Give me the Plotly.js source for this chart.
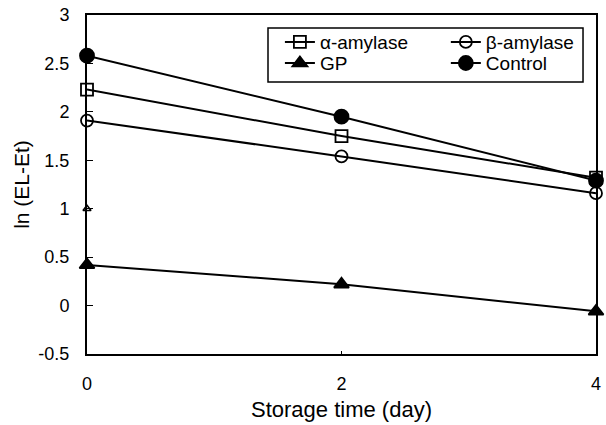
<!DOCTYPE html>
<html>
<head>
<meta charset="utf-8">
<script src="https://cdn.plot.ly/plotly-3.0.1.min.js"></script>
<style>html,body{margin:0;padding:0;background:#fff;}#chart{width:606px;height:425px;}</style>
</head>
<body>
<div id="chart"></div>
<script>
const days = [0, 2, 4];
const alphaAmylase = [2.23, 1.75, 1.32];
const betaAmylase = [1.91, 1.54, 1.16];
const gp = [0.42, 0.22, -0.06];
const control = [2.58, 1.95, 1.29];
const strayX = [0];
const strayY = [1.0];
const xTicks = [0, 2, 4];
const yTicks = [-0.5, 0, 0.5, 1, 1.5, 2, 2.5, 3];
const yTickText = ['-0.5', '0', '0.5', '1', '1.5', '2', '2.5', '3'];

const fontFam = 'Liberation Sans, Arial, sans-serif';
const line = {color: '#000', width: 2};
function tr(name, y, symbol, size, leg) {
  return {x: days, y: y, name: name, type: 'scatter', mode: 'lines+markers',
    line: line, cliponaxis: false, legend: leg,
    marker: {symbol: symbol, size: size, color: '#000', line: {color: '#000', width: 1.8}}};
}
const traces = [
  tr('α-amylase', alphaAmylase, 'square-open', 12, 'legend'),
  tr('β-amylase', betaAmylase, 'circle-open', 12, 'legend2'),
  tr('GP', gp, 'triangle-up', 13, 'legend3'),
  tr('Control', control, 'circle', 14, 'legend4'),
  {x: strayX, y: strayY, type: 'scatter', mode: 'markers', showlegend: false, cliponaxis: false,
   marker: {symbol: 'triangle-up-open', size: 7, color: '#000', line: {color: '#000', width: 1.5}}}
];
const legFont = {family: fontFam, size: 19, color: '#000'};
function leg(x, y) {
  return {x: x, y: y, xanchor: 'left', yanchor: 'middle', bgcolor: 'rgba(0,0,0,0)',
    borderwidth: 0, font: legFont, tracegroupgap: 0};
}
const layout = {
  width: 606, height: 425,
  margin: {l: 87, r: 10, t: 15, b: 71},
  paper_bgcolor: '#fff', plot_bgcolor: '#fff',
  font: {family: fontFam, size: 18, color: '#000'},
  showlegend: true,
  legend: leg(0.379, 0.920),
  legend2: leg(0.705, 0.920),
  legend3: leg(0.379, 0.858),
  legend4: leg(0.705, 0.858),
  shapes: [{type: 'rect', xref: 'paper', yref: 'paper', x0: 0.3556, x1: 0.9745, y0: 0.8024, y1: 0.9617,
    line: {color: '#000', width: 1.5}, fillcolor: '#fff', layer: 'above'}],
  xaxis: {range: [0, 4], tickvals: xTicks, ticktext: xTicks.map(String),
    showgrid: false, zeroline: false, showline: true, linecolor: '#000', linewidth: 2,
    mirror: true, ticks: 'inside', ticklen: 3, tickcolor: '#000',
    tickfont: {size: 18}, ticklabelstandoff: 12,
    title: {text: 'Storage time (day)', font: {size: 22}, standoff: 9}},
  yaxis: {range: [-0.5, 3], tickvals: yTicks, ticktext: yTickText,
    showgrid: false, zeroline: false, showline: true, linecolor: '#000', linewidth: 2,
    mirror: true, ticks: 'inside', ticklen: 6, tickcolor: '#000',
    tickfont: {size: 18}, ticklabelstandoff: 12,
    title: {text: 'ln (EL-Et)', font: {size: 21}, standoff: 3}}
};
Plotly.newPlot('chart', traces, layout, {displayModeBar: false, staticPlot: true});
</script>
</body>
</html>
